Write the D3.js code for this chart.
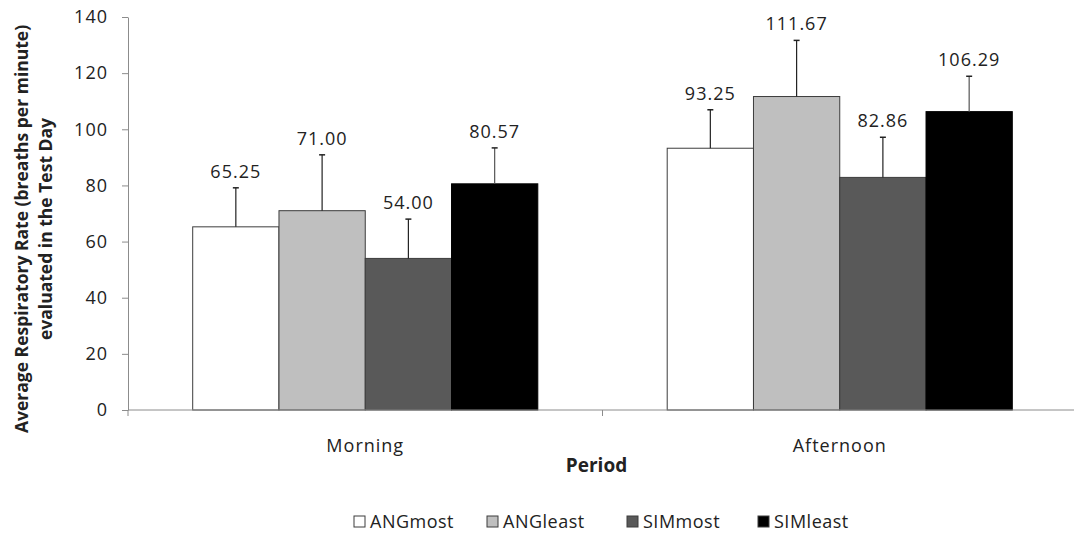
<!DOCTYPE html>
<html lang="en">
<head>
<meta charset="UTF-8" />
<title>Respiratory rate</title>
<style>
  body { margin: 0; background: #fff; }
  text { font-family: "Open Sans", sans-serif; fill: #222; }
</style>
</head>
<body>
<svg id="chart" width="1074" height="533"></svg>
<script src="https://d3js.org/d3.v7.min.js"></script>
<script>
const periods = ['Morning', 'Afternoon'];
const groups = ['ANGmost', 'ANGleast', 'SIMmost', 'SIMleast'];
const means = {
  Morning:   [65.25, 71.00, 54.00, 80.57],
  Afternoon: [93.25, 111.67, 82.86, 106.29]
};
const sds = {
  Morning:   [13.9, 19.9, 14.0, 12.8],
  Afternoon: [13.7, 20.0, 14.3, 12.6]
};
const yTicks = [0, 20, 40, 60, 80, 100, 120, 140];
const colors = ['#ffffff', '#bfbfbf', '#595959', '#000000'];

const svg = d3.select('#chart');

const x = d3.scaleBand().domain(periods).range([128, 1077]);
const inner = d3.scaleBand().domain(groups)
  .range([64.7, x.bandwidth() - 64.7]);
const y = d3.scaleLinear().domain([0, 140]).range([410, 17]);
const color = d3.scaleOrdinal().domain(groups).range(colors);

// y axis
const yAxis = svg.append('g')
  .attr('transform', 'translate(128,0)')
  .call(d3.axisLeft(y).tickValues(yTicks).tickSize(6).tickSizeOuter(0).tickPadding(14));
yAxis.select('.domain').attr('stroke', '#8c8c8c');
yAxis.selectAll('.tick line').attr('stroke', '#8c8c8c');
yAxis.selectAll('.tick text')
  .style('font-family', '"Open Sans", sans-serif')
  .style('font-size', '18px')
  .style('letter-spacing', '1px')
  .attr('fill', '#222');

// rows of bars
const rows = periods.flatMap(p => groups.map((g, i) => ({
  period: p, group: g, mean: means[p][i], sd: sds[p][i]
})));

const bars = svg.append('g').selectAll('g')
  .data(rows)
  .join('g')
  .attr('transform', d => `translate(${x(d.period) + inner(d.group)},0)`);

bars.append('rect')
  .attr('x', 0)
  .attr('width', inner.bandwidth())
  .attr('y', d => y(d.mean))
  .attr('height', d => y(0) - y(d.mean))
  .attr('fill', d => color(d.group))
  .attr('stroke', d => d.group === 'SIMleast' ? '#000' : '#3c3c3c')
  .attr('stroke-width', 1);

// error bars
const cx = inner.bandwidth() / 2;
bars.append('line')
  .attr('x1', cx).attr('x2', cx)
  .attr('y1', d => y(d.mean))
  .attr('y2', d => y(d.mean + d.sd))
  .attr('stroke', d => d.group === 'SIMleast' ? '#555' : '#222')
  .attr('stroke-width', 1.2);
bars.append('line')
  .attr('x1', cx - 3).attr('x2', cx + 3)
  .attr('y1', d => y(d.mean + d.sd))
  .attr('y2', d => y(d.mean + d.sd))
  .attr('stroke', '#222')
  .attr('stroke-width', 1.5);

// value labels
bars.append('text')
  .attr('x', cx)
  .attr('y', d => y(d.mean + d.sd) - 10)
  .attr('text-anchor', 'middle')
  .style('font-size', '18px')
  .style('letter-spacing', '1px')
  .text(d => d.mean.toFixed(2));

// x axis
const xg = svg.append('g').attr('stroke', '#8c8c8c');
xg.append('line')
  .attr('x1', x.range()[0]).attr('x2', 1074)
  .attr('y1', y(0)).attr('y2', y(0));
const bounds = periods.map(p => x(p)).concat([x.range()[1]]);
xg.selectAll('line.tk')
  .data(bounds)
  .join('line')
  .attr('class', 'tk')
  .attr('x1', d => d).attr('x2', d => d)
  .attr('y1', y(0)).attr('y2', y(0) + 6);

svg.append('g').selectAll('text')
  .data(periods)
  .join('text')
  .attr('x', d => x(d) + x.bandwidth() / 2)
  .attr('y', 452)
  .attr('text-anchor', 'middle')
  .style('font-size', '18px')
  .style('letter-spacing', '1px')
  .text(d => d);

// axis titles
svg.append('text')
  .attr('x', (x.range()[0] + x.range()[1]) / 2 - 6)
  .attr('y', 472)
  .attr('text-anchor', 'middle')
  .style('font-size', '19px')
  .style('font-weight', 'bold')
  .text('Period');

const yt = svg.append('text')
  .attr('transform', 'translate(28,229) rotate(-90)')
  .attr('text-anchor', 'middle')
  .style('font-size', '17.5px')
  .style('font-weight', 'bold');
yt.append('tspan').attr('x', 0).attr('dy', 0)
  .text('Average Respiratory Rate (breaths per minute)');
yt.append('tspan').attr('x', 0).attr('dy', 24)
  .text('evaluated in the Test Day');

// legend
const legendX = [354, 487, 627, 758];
const leg = svg.append('g').selectAll('g')
  .data(groups)
  .join('g')
  .attr('transform', (d, i) => `translate(${legendX[i]},516)`);
leg.append('rect')
  .attr('width', 11).attr('height', 11)
  .attr('fill', d => color(d))
  .attr('stroke', '#3c3c3c');
leg.append('text')
  .attr('x', 16).attr('y', 12)
  .style('font-size', '18px')
  .style('letter-spacing', '0.5px')
  .text(d => d);
</script>
</body>
</html>
